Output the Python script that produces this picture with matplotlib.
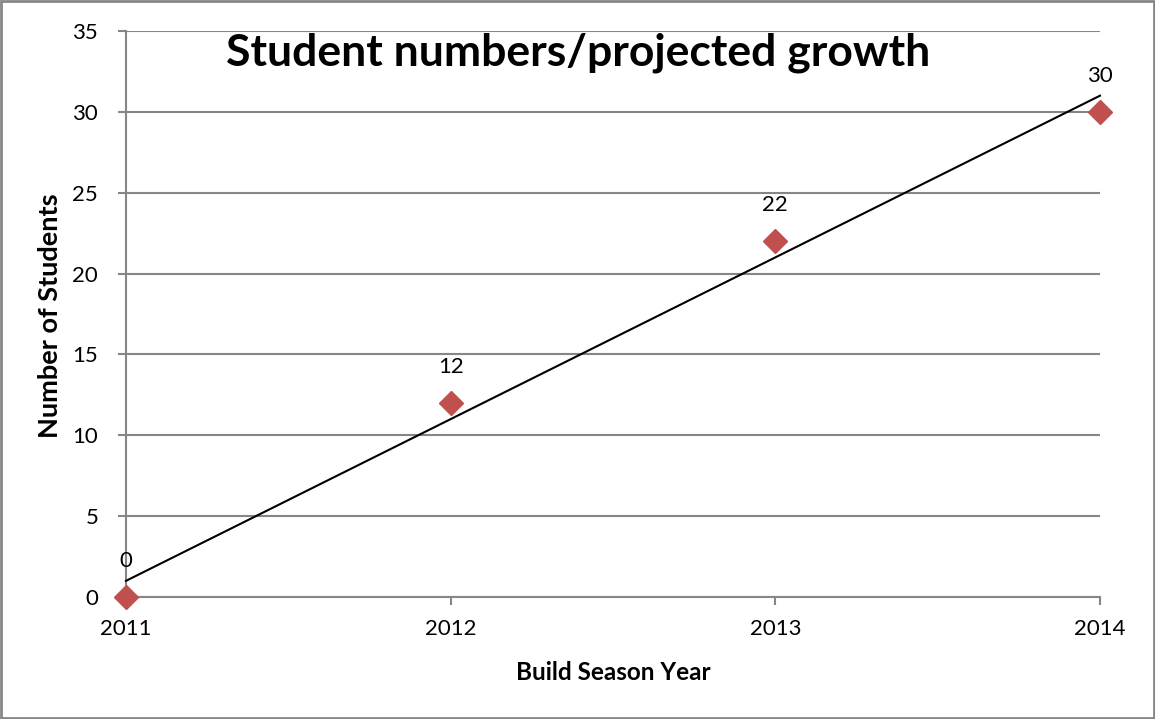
import matplotlib
matplotlib.use("Agg")
from matplotlib import pyplot as plt
from matplotlib.patches import Rectangle
import numpy as np

years = [2011, 2012, 2013, 2014]
students = [0, 12, 22, 30]
yticks = [0, 5, 10, 15, 20, 25, 30, 35]

FONT = "Lato"
GRID = "#868686"
MARKER = "#C0504D"

fig = plt.figure(figsize=(11.55, 7.19), dpi=100)
ax = fig.add_axes([126 / 1155, 1 - 597 / 719, 974 / 1155, 566 / 719])

ax.set_xlim(years[0], years[-1])
ax.set_ylim(0, 35)

# gridlines
ax.set_yticks(yticks)
ax.set_xticks(years)
ax.grid(axis="y", color=GRID, linewidth=1.5)
ax.set_axisbelow(True)
for s in ["top", "right"]:
    ax.spines[s].set_visible(False)
for s in ["left", "bottom"]:
    ax.spines[s].set_color(GRID)
    ax.spines[s].set_linewidth(1.5)
ax.tick_params(axis="both", colors=GRID, width=1.5, length=6, labelcolor="black",
               labelsize=16)
ax.tick_params(axis="x", pad=10)
ax.tick_params(axis="y", pad=14)
for lbl in ax.get_xticklabels() + ax.get_yticklabels():
    lbl.set_fontfamily(FONT)

# linear trendline
x = np.arange(len(years))
k, b = np.polyfit(x, students, 1)
ax.plot([years[0], years[-1]], [b, b + k * x[-1]], color="black", lw=1.5,
        clip_on=False, zorder=3)

ax.plot(years, students, linestyle="none", marker="D", markersize=12,
        color=MARKER, clip_on=False, zorder=4)

for xv, yv in zip(years, students):
    ax.annotate(str(yv), (xv, yv), xytext=(0, 26), textcoords="offset points",
                ha="center", va="center", fontsize=16, family=FONT)

fig.text(578 / 1155, 1 - 53 / 719, "Student numbers/projected growth",
         ha="center", va="center", fontsize=32, fontweight="bold", family=FONT)

ax.set_xlabel("Build Season Year", fontsize=17.5, fontweight="bold", family=FONT)
ax.set_ylabel("Number of Students", fontsize=19.5, fontweight="bold", family=FONT)
ax.xaxis.set_label_coords(0.5, -0.134)
ax.yaxis.set_label_coords(-0.078, 0.4965)
ax.xaxis.label.set_va("center")
ax.yaxis.label.set_va("center")

fig.add_artist(Rectangle((0.001, 0.001), 0.998, 0.997, transform=fig.transFigure,
                         fill=False, edgecolor=GRID, linewidth=2))

fig.savefig("out.png", dpi=100)
